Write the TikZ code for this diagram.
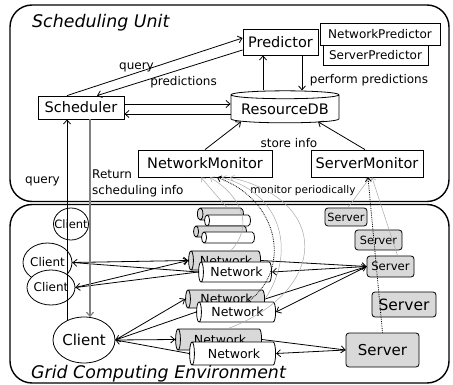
\documentclass[tikz,border=0pt]{standalone}
\usepackage{fontspec}
\setmainfont{DejaVu Sans}
\usetikzlibrary{arrows.meta,shapes.geometric,calc}
\definecolor{cylgray}{HTML}{D9D9D9}
\definecolor{monline}{HTML}{A8A8A8}
\definecolor{retline}{HTML}{808080}
\newcommand{\fsel}[1]{\fontsize{#1}{#1}\selectfont}
\newcommand{\nowidth}[1]{\makebox[0pt]{#1}}
\tikzset{
  box/.style={draw, fill=white, line width=0.8pt, inner sep=0pt},
  lbl/.style={inner sep=0pt, font=\fsel{12}},
  barb/.tip={Straight Barb[length=4pt,width=7pt]},
  arr/.style={line width=0.8pt, -barb},
  client/.style={ellipse, draw, fill=white, line width=0.8pt, inner sep=0pt},
  % cylinder lying on its side: length = minimum height, diameter = minimum width
  net/.style={cylinder, shape border rotate=180, aspect=0.5, draw, line width=0.8pt, inner sep=0pt, font=\fsel{12.5}},
  gnet/.style={net, fill=cylgray},
  wnet/.style={net, fill=white},
  server/.style={draw, rounded corners=3pt, fill=cylgray, line width=0.8pt, inner sep=0pt},
  mon/.style={monline, line width=0.5pt, -{Straight Barb[length=3.5pt,width=6pt]}},
  mondot/.style={black, densely dotted, line width=0.8pt, -{Straight Barb[length=3.5pt,width=6pt]}},
  frame/.style={draw, line width=1.4pt, rounded corners=22pt},
  title/.style={inner sep=0pt, anchor=base west, font=\fsel{17.4}\itshape}
}
\begin{document}
\begin{tikzpicture}[x=1pt, y=-1pt]
\useasboundingbox (0,0) rectangle (453,385);
\fill[white] (0,0) rectangle (453,385);

% the two areas
\draw[frame] (10,5) rectangle (449,201.5);
\draw[frame] (10,204.5) rectangle (449,383);
\node[title] (unit) at (32,27.7) {Scheduling Unit};
\node[title] (grid) at (31,378) {Grid Computing Environment};

% scheduling unit components
\node[box, minimum width=86pt, minimum height=23pt, font=\fsel{14.5}] (sched) at (81,107.5) {Scheduler};
\node[box, minimum width=75pt, minimum height=26pt, font=\fsel{14.5}] (pred) at (280.5,42) {Predictor};
\node[box, minimum width=120pt, minimum height=22pt, font=\fsel{12}] (netpred) at (380,34) {NetworkPredictor};
\node[box, minimum width=105pt, minimum height=20pt, font=\fsel{12}] (servpred) at (375.5,55) {ServerPredictor};
\node[cylinder, shape border rotate=90, aspect=0.09, draw, fill=white, line width=0.8pt, inner sep=0pt,
      minimum width=108pt, minimum height=32pt, font=\fsel{14.5}] (db) at (285,109) {ResourceDB};
\node[box, minimum width=134pt, minimum height=27pt, font=\fsel{14.5}] (nm) at (205,163.5) {NetworkMonitor};
\node[box, minimum width=112pt, minimum height=27pt, font=\fsel{14.5}] (sm) at (367,163.5) {ServerMonitor};

% connections inside the scheduling unit
\draw[arr] ([xshift=-14pt]sched.north) -- ([yshift=4pt]pred.west);
\draw[arr] ([yshift=-8pt]pred.west) -- ([xshift=16pt]sched.north);
\draw[arr] ([yshift=3.5pt]sched.east) -- ([yshift=3.5pt]sched.east -| db.west);
\draw[arr] ([yshift=-6.5pt]sched.east -| db.west) -- ([yshift=-6.5pt]sched.east);
\draw[arr] ([xshift=-17.5pt]pred.south |- db.north) -- ([xshift=-17.5pt]pred.south);
\draw[arr] ([xshift=21.5pt]pred.south) -- ([xshift=21.5pt]pred.south |- db.north);
\draw[arr] (nm.north) -- ([xshift=-44pt,yshift=1.5pt]db.south);
\draw[arr] ([xshift=-2pt]sm.north) -- ([xshift=33pt,yshift=1.5pt]db.south);

\node[lbl] (lq) at (136.5,67) {query};
\node[lbl] (lp) at (183.5,82) {predictions};
\node[lbl] (lpp) at (369,80) {perform predictions};
\node[lbl] (lsi) at (289,143) {store info};
\node[lbl, font=\fsel{10.5}] (lmp) at (303,191) {monitor periodically};
\node[lbl] (lq2) at (42.5,181) {query};
\node[lbl, anchor=west] (lret) at (92,174) {Return};
\node[lbl, anchor=west] (lsch) at (92,191) {scheduling info};

% grid computing environment: spare networks (empty, sized by a strut)
\node[gnet, minimum height=46pt, minimum width=12pt] (sa) at (222,214) {\rule{0pt}{11pt}};
\node[wnet, minimum height=46pt, minimum width=11pt] (sb) at (229,220.5) {\rule{0pt}{10pt}};
\node[gnet, minimum height=53pt, minimum width=11pt] (sc) at (221.5,231.5) {\rule{0pt}{10pt}};
\node[wnet, minimum height=53pt, minimum width=11pt] (sd) at (229.5,237.5) {\rule{0pt}{10pt}};

% networks in use
\node[gnet, minimum height=72pt, minimum width=19pt] (gn1) at (226,260.5) {Network};
\node[wnet, minimum height=73pt, minimum width=20pt] (wn1) at (236.5,272) {Network};
\node[gnet, minimum height=79pt, minimum width=18pt] (gn2) at (226.5,299) {Network};
\node[wnet, minimum height=79pt, minimum width=20pt] (wn2) at (237.5,312) {Network};
\node[gnet, minimum height=86pt, minimum width=21pt] (gn3) at (220,339.5) {Network};
\node[wnet, minimum height=86pt, minimum width=23pt] (wn3) at (234,353.5) {Network};

% servers
\node[server, minimum width=42pt, minimum height=18pt, font=\fsel{11.3}] (s1) at (346,217) {Server};
\node[server, minimum width=47pt, minimum height=20pt, font=\fsel{11.3}] (s2) at (378.5,240) {Server};
\node[server, minimum width=47pt, minimum height=21pt, font=\fsel{11.7}] (s3) at (390.5,266.5) {Server};
\node[server, minimum width=64pt, minimum height=25pt, font=\fsel{15.5}] (s4) at (404,304.5) {Server};
\node[server, minimum width=73pt, minimum height=34pt, font=\fsel{15}] (s5) at (382.5,350) {Server};

% clients
\node[client, minimum width=35pt, minimum height=32pt, font=\fsel{11.5}] (c1) at (71,224) {\nowidth{Client}};
\node[client, minimum width=49pt, minimum height=39pt, font=\fsel{12}] (c2) at (47.5,262.5) {\nowidth{Client}};
\node[client, minimum width=48pt, minimum height=35pt, font=\fsel{12}] (c3) at (51,287.5) {\nowidth{Client}};
\node[client, minimum width=62pt, minimum height=46pt, font=\fsel{15}] (bigc) at (84,340) {\nowidth{Client}};

% requests and replies between clients, networks and servers
\draw[arr] (c2.east) -- (gn1.west);
\draw[arr] (wn1.west) -- (c2.east);
\draw[arr] (c3.east) -- (gn1.west);
\draw[arr] (wn1.west) -- (c3.east);
\draw[arr] (bigc.east) -- (gn2.west);
\draw[arr] (wn2.west) -- (bigc.east);
\draw[arr] (bigc.east) -- (gn3.west);
\draw[arr] (wn3.west) -- (bigc.east);
\draw[arr] (gn1.east) -- (s3.west);
\draw[arr] (s3.west) -- (wn1.east);
\draw[arr] (gn2.east) -- (s3.west);
\draw[arr] (s3.west) -- (wn2.east);
\draw[arr] (gn3.east) -- (s5.west);
\draw[arr] (s5.west) -- (wn3.east);

% periodic monitoring of networks
\draw[mon] ([xshift=5pt]sa.north) -- ([xshift=-4pt]nm.south);
\draw[mon] ([xshift=-5pt]gn1.north east) .. controls (255,225) and (240,195) .. ([xshift=5pt]nm.south);
\draw[mondot] (wn2.north east) .. controls (292,270) and (280,200) .. ([xshift=12pt]nm.south);
\draw[mon] (gn2.east) .. controls (295,255) and (285,195) .. ([xshift=17pt]nm.south);
\draw[mon] ([xshift=-3pt]gn3.north east) .. controls (330,290) and (330,200) .. ([xshift=25pt]nm.south);

% periodic monitoring of servers
\draw[mon] ([xshift=2pt]s1.north) -- ([xshift=3pt]sm.south);
\draw[mon] ([xshift=7pt]s3.north) -- ([xshift=5pt]sm.south);
\draw[mondot] (s5.north) -- ([xshift=1pt]sm.south);

% queries from the client and returned schedules
\draw[arr] ([xshift=-17pt,yshift=-4pt]bigc.north) -- ([xshift=-14pt]sched.south);
\draw[retline, line width=1.2pt, -barb] ([xshift=9pt]sched.south) -- ([xshift=6pt,yshift=-0.5pt]bigc.north);
\end{tikzpicture}
\end{document}
